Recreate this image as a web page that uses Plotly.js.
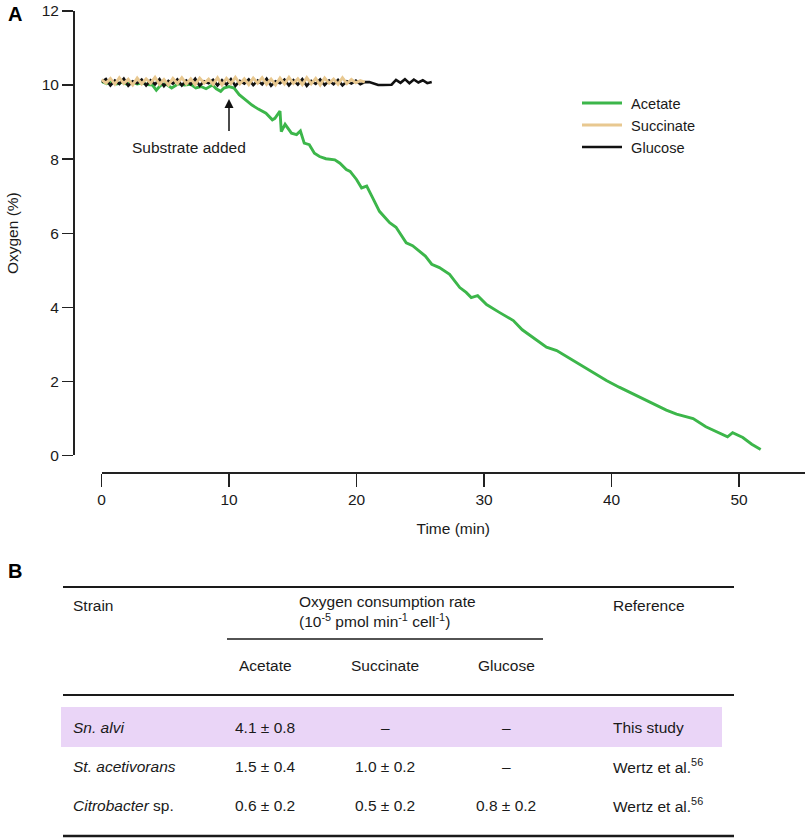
<!DOCTYPE html>
<html>
<head>
<meta charset="utf-8">
<script src="https://cdn.plot.ly/plotly-3.0.1.min.js"></script>
<style>
  html, body { margin: 0; padding: 0; background: #fff; }
  #chart { width: 805px; height: 838px; }
</style>
</head>
<body>
<div id="chart"></div>
<script>
// ---------------- Data (panel A) ----------------
const acetateTime = [0.0,0.4,0.8,1.2,1.6,2.0,2.4,2.8,3.2,3.6,4.0,4.3,4.6,5.0,5.5,6.0,6.5,7.0,7.4,7.8,8.2,8.7,9.0,9.35,9.6,10.0,10.4,10.8,11.3,11.8,12.3,12.9,13.4,13.6,14.0,14.1,14.4,14.9,15.3,15.6,15.9,16.3,16.7,17.1,17.6,18.3,18.7,19.2,19.5,20.0,20.4,20.8,21.2,21.8,22.6,23.1,23.9,24.4,24.9,25.4,25.9,26.5,27.3,28.1,28.6,29.0,29.5,30.2,31.2,31.7,32.3,33.0,33.9,34.9,35.7,37.0,38.0,39.6,40.6,41.7,42.6,43.5,44.3,45.1,46.4,47.4,48.3,49.1,49.5,50.3,51.0,51.7];
const acetateO2 = [10.10,10.04,10.09,10.03,10.07,10.02,10.08,10.03,10.06,10.01,10.00,9.86,9.98,10.04,9.92,10.03,10.00,10.02,9.92,9.96,9.90,10.00,9.90,9.83,9.92,9.96,9.92,9.74,9.60,9.46,9.35,9.24,9.06,9.10,9.30,8.74,8.94,8.70,8.66,8.76,8.43,8.39,8.16,8.07,8.01,7.98,7.89,7.72,7.67,7.45,7.22,7.27,7.00,6.59,6.28,6.16,5.74,5.66,5.52,5.38,5.16,5.07,4.89,4.53,4.40,4.26,4.31,4.07,3.86,3.77,3.64,3.39,3.17,2.92,2.83,2.56,2.34,2.02,1.84,1.65,1.50,1.35,1.22,1.11,0.99,0.77,0.62,0.50,0.61,0.48,0.30,0.16];

// sampled every 0.35 min from t = 0
const sampleStep = 0.35;
const succinateO2 = [10.15,10.05,10.18,10.02,10.20,10.04,10.16,10.00,10.19,10.03,10.17,10.05,10.21,10.02,10.15,10.00,10.18,10.04,10.20,10.03,10.17,10.01,10.19,10.05,10.16,10.02,10.20,10.00,10.18,10.04,10.21,10.03,10.17,10.01,10.19,10.05,10.20,10.02,10.16,10.00,10.19,10.03,10.21,10.04,10.17,10.01,10.20,10.03,10.18,10.00,10.19,10.05,10.16,10.02,10.20,10.04,10.15,10.06,10.12,10.08];
const glucoseO2 = [10.08,10.16,9.99,10.12,10.03,10.17,9.98,10.10,10.05,10.15,9.99,10.13,10.02,10.16,9.97,10.11,10.04,10.15,9.99,10.12,10.02,10.17,9.98,10.10,10.05,10.14,9.99,10.13,10.01,10.16,9.98,10.11,10.04,10.15,10.00,10.12,10.02,10.17,9.98,10.10,10.05,10.15,9.99,10.13,10.01,10.16,9.98,10.11,10.03,10.15,10.00,10.12,10.02,10.14,9.99,10.10,10.04,10.12,10.02,10.08,
                   10.08,10.05,10.00,10.00,10.00,10.01,10.14,10.06,10.16,10.05,10.15,10.07,10.13,10.05,10.08];

const seriesNames = ['Acetate', 'Succinate', 'Glucose'];
const xTickVals = [0, 10, 20, 30, 40, 50];
const yTickVals = [0, 2, 4, 6, 8, 10, 12];

// substrate addition
const substrateTime = 10;
const substrateLabel = 'Substrate added';

// ---------------- Data (panel B table) ----------------
const tableStrains = ['<i>Sn. alvi</i>', '<i>St. acetivorans</i>', '<i>Citrobacter</i> sp.'];
const tableAcetate = ['4.1 ± 0.8', '1.5 ± 0.4', '0.6 ± 0.2'];
const tableSuccinate = ['–', '1.0 ± 0.2', '0.5 ± 0.2'];
const tableGlucose = ['–', '–', '0.8 ± 0.2'];
const tableReference = ['This study', 'Wertz et al.<sup>56</sup>', 'Wertz et al.<sup>56</sup>'];
const headStrain = 'Strain';
const headRate = 'Oxygen consumption rate<br>(10<sup>-5</sup> pmol min<sup>-1</sup> cell<sup>-1</sup>)';
const headReference = 'Reference';
const headSubstrates = ['Acetate', 'Succinate', 'Glucose'];

// ---------------- Layout helpers ----------------
const W = 805, H = 838;
const FONT = 'Liberation Sans, Arial, Helvetica, sans-serif';
const TXT = '#1a1a1a';
const px = v => v / W;
const py = v => 1 - v / H;
const NB = '\u00A0';

const traces = [
  { type: 'scatter', mode: 'lines', name: NB + seriesNames[0], x: acetateTime, y: acetateO2,
    line: { color: '#3cb64a', width: 2.9 }, legendrank: 1 },
  { type: 'scatter', mode: 'lines', name: NB + seriesNames[2], x0: 0, dx: sampleStep, y: glucoseO2,
    line: { color: '#111111', width: 2.6 }, legendrank: 3 },
  { type: 'scatter', mode: 'lines', name: NB + seriesNames[1], x0: 0, dx: sampleStep, y: succinateO2,
    line: { color: '#e8c890', width: 2.9 }, legendrank: 2 }
];

const annotations = [];
function ann(text, x, y, opts) {
  annotations.push(Object.assign({
    text: text, x: px(x), y: py(y), xref: 'paper', yref: 'paper',
    showarrow: false, xanchor: 'left', yanchor: 'middle',
    font: { family: FONT, size: 15.5, color: TXT }
  }, opts || {}));
}

// panel letters
ann('<b>A</b>', 6, 14, { font: { family: FONT, size: 20, color: '#000' } });
ann('<b>B</b>', 6, 571, { font: { family: FONT, size: 20, color: '#000' } });

// arrow + label
annotations.push({
  x: substrateTime, y: 9.62, xref: 'x', yref: 'y',
  ax: substrateTime, ay: 8.72, axref: 'x', ayref: 'y',
  text: '', showarrow: true, arrowhead: 2, arrowsize: 1.2, arrowwidth: 1.5,
  arrowcolor: '#111', standoff: 0, startstandoff: 0
});
annotations.push({
  x: 6.86, y: 8.30, xref: 'x', yref: 'y', text: substrateLabel, showarrow: false,
  xanchor: 'center', yanchor: 'middle', font: { family: FONT, size: 15.5, color: TXT }
});

// table header
ann(headStrain, 71, 605);
ann(headRate, 297, 611, { align: 'left' });
ann(headReference, 611, 605);
const colCenters = [265, 385, 506];
headSubstrates.forEach((h, i) => ann(h, colCenters[i], 665, { xanchor: 'center' }));

// table rows
const rowY = [727, 766, 805];
tableStrains.forEach((s, i) => {
  ann(s, 71, rowY[i]);
  ann(tableAcetate[i], colCenters[0], rowY[i], { xanchor: 'center' });
  ann(tableSuccinate[i], colCenters[1], rowY[i], { xanchor: 'center' });
  ann(tableGlucose[i], colCenters[2], rowY[i], { xanchor: 'center' });
  ann(tableReference[i], 611, rowY[i]);
});

function hline(x0, x1, y, w) {
  return { type: 'line', xref: 'paper', yref: 'paper', x0: px(x0), x1: px(x1), y0: py(y), y1: py(y),
           line: { color: '#1a1a1a', width: w } };
}
const shapes = [
  { type: 'rect', xref: 'paper', yref: 'paper', x0: px(61), x1: px(722), y0: py(707), y1: py(747),
    fillcolor: '#ead5f7', line: { width: 0 }, layer: 'below' },
  hline(63, 734, 587, 2),
  hline(227, 543, 639, 1.6),
  hline(63, 734, 695, 2),
  hline(63, 734, 836, 2.6)
];

const axisFont = { family: FONT, size: 15.5, color: TXT };

const layout = {
  width: W, height: H,
  margin: { l: 0, r: 0, t: 0, b: 0 },
  paper_bgcolor: '#fff', plot_bgcolor: 'rgba(0,0,0,0)',
  showlegend: true,
  legend: {
    x: px(577), y: py(87), xanchor: 'left', yanchor: 'top',
    font: { family: FONT, size: 14.6, color: TXT },
    bgcolor: 'rgba(0,0,0,0)', itemwidth: 40, tracegroupgap: 0
  },
  xaxis: {
    domain: [px(101.5), 1], range: [0, (W - 101.5) / 12.75],
    anchor: 'free', position: 1 - 472 / H,
    showgrid: false, zeroline: false, showline: true, linecolor: '#222', linewidth: 1.5,
    ticks: 'outside', ticklen: 13, tickwidth: 1.3, tickcolor: '#222',
    tickvals: xTickVals, ticktext: xTickVals.map(String), tickfont: axisFont,
    title: { text: 'Time (min)', font: axisFont, standoff: 16 },
    automargin: false, fixedrange: true
  },
  yaxis: {
    domain: [1 - 455.3 / H, 1 - 11 / H], range: [0, 12],
    anchor: 'free', position: px(73),
    showgrid: false, zeroline: false, showline: true, linecolor: '#222', linewidth: 1.5,
    ticks: 'outside', ticklen: 11, tickwidth: 1.3, tickcolor: '#222',
    tickvals: yTickVals, ticktext: yTickVals.map(String), tickfont: axisFont,
    title: { text: 'Oxygen (%)', font: axisFont, standoff: 17 },
    automargin: false, fixedrange: true
  },
  annotations: annotations,
  shapes: shapes
};

Plotly.newPlot('chart', traces, layout, { displayModeBar: false, staticPlot: true });
</script>
</body>
</html>
